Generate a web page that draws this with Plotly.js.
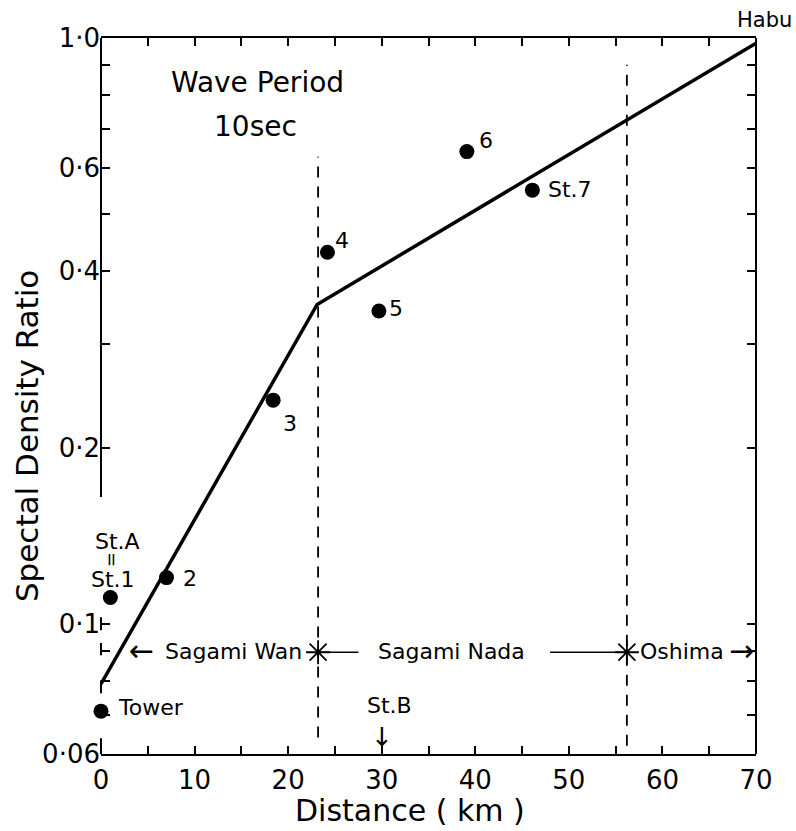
<!DOCTYPE html>
<html>
<head>
<meta charset="utf-8">
<script src="https://cdn.plot.ly/plotly-3.0.1.min.js"></script>
<style>html,body{margin:0;padding:0;background:#fff;}#chart{width:796px;height:831px;}</style>
</head>
<body>
<div id="chart"></div>
<script>
// ---- data ----
const stationNames = ['Tower', 'St.1', '2', '3', '4', '5', '6', 'St.7'];
const distanceKm   = [0, 1.0, 7.0, 18.4, 24.2, 29.7, 39.1, 46.1];
const densityRatio = [0.071, 0.111, 0.120, 0.241, 0.431, 0.342, 0.64, 0.55];

const fitDistance = [0, 23.1, 70];
const fitRatio    = [0.079, 0.351, 0.98];

const boundaryKm   = [23.2, 56.2];
const boundaryTop  = [0.627, 0.90];
const boundaryBot  = [0.064, 0.062];

const xTickVals = [0, 5, 10, 15, 20, 25, 30, 35, 40, 45, 50, 55, 60, 65, 70];
const xTickText = ['0', '', '10', '', '20', '', '30', '', '40', '', '50', '', '60', '', '70'];
const yTickVals = [0.06, 0.07, 0.08, 0.09, 0.1, 0.2, 0.3, 0.4, 0.5, 0.6, 0.7, 0.8, 0.9, 1.0];
const yTickText = ['0·06', '', '', '', '0·1', '0·2', '', '0·4', '', '0·6', '', '', '', '1·0'];

const regionRowRatio = 0.0895;
const regionNames = ['Sagami Wan', 'Sagami Nada', 'Oshima'];
const regionLabelKm = [14.2, 37.5, 62.1];

const xTitle = 'Distance ( km )';
const yTitle = 'Spectal Density Ratio';

// ---- traces ----
const L = v => Math.log10(v);
const traces = [];

// boundary dashed lines
boundaryKm.forEach((x, i) => {
  traces.push({
    x: [x, x], y: [boundaryBot[i], boundaryTop[i]], mode: 'lines',
    line: {color: '#000', width: 1.8, dash: '11px,9px'}, hoverinfo: 'skip', showlegend: false
  });
});

// region connector lines
traces.push({
  x: [boundaryKm[0], 27.5, null, 48.0, boundaryKm[1]],
  y: [regionRowRatio, regionRowRatio, null, regionRowRatio, regionRowRatio],
  mode: 'lines', line: {color: '#000', width: 1.6}, hoverinfo: 'skip', showlegend: false
});
// region boundary stars
traces.push({
  x: boundaryKm, y: [regionRowRatio, regionRowRatio], mode: 'markers',
  marker: {symbol: 'asterisk-open', size: 20, color: '#000', line: {color: '#000', width: 1.8}},
  hoverinfo: 'skip', showlegend: false
});

// fitted line
traces.push({
  x: fitDistance, y: fitRatio, mode: 'lines',
  line: {color: '#000', width: 3.5}, hoverinfo: 'skip', showlegend: false, cliponaxis: false
});

// observed points
traces.push({
  x: distanceKm, y: densityRatio, text: stationNames, mode: 'markers',
  marker: {color: '#000', size: 15}, showlegend: false, cliponaxis: false
});

// ---- annotations ----
const fnt = (s) => ({family: 'DejaVu Sans', size: s, color: '#000'});
const ann = [];
function txt(text, x, y, opts) {
  ann.push(Object.assign({text: text, x: x, y: L(y), xref: 'x', yref: 'y', showarrow: false,
    xanchor: 'center', yanchor: 'middle', font: fnt(22)}, opts || {}));
}
// point labels (anchored to their points with pixel offsets)
const labelShift = {
  '2':    {xshift: 23, yshift: -1},
  '3':    {xshift: 17, yshift: -23},
  '4':    {xshift: 15, yshift: 12},
  '5':    {xshift: 17, yshift: 3},
  '6':    {xshift: 19, yshift: 11},
  'St.7': {xshift: 14, yshift: 1, xanchor: 'left'},
  'Tower':{xshift: 15, yshift: 4, xanchor: 'left'},
  'St.1': {xshift: 3, yshift: 18}
};
stationNames.forEach((n, i) => {
  txt(n, distanceKm[i], densityRatio[i], labelShift[n]);
});
// equality mark and St.A above St.1
txt('=', distanceKm[1], densityRatio[1], {xshift: 2, yshift: 38, textangle: 90, font: fnt(18)});
txt('St.A', distanceKm[1], densityRatio[1], {xshift: 7, yshift: 56});

txt('Wave Period', 16.7, 0.84, {font: fnt(28)});
txt('10sec', 16.5, 0.705, {font: fnt(28)});

// region row
txt('←', 4.3, regionRowRatio, {yshift: 2, font: fnt(30)});
regionNames.forEach((n, i) => txt(n, regionLabelKm[i], regionRowRatio, {yshift: 1}));
txt('→', 68.4, regionRowRatio, {yshift: 2, font: fnt(30)});

txt('St.B', 30.8, 0.0719, {yshift: 2});
txt('↓', 30.0, 0.0652, {font: fnt(26), yshift: -4});

// labels outside the plotting area (paper coordinates)
const paperTxt = (text, x, y, opts) => ann.push(Object.assign({text: text, xref: 'paper', yref: 'paper', x: x, y: y,
  xanchor: 'center', yanchor: 'middle', showarrow: false, font: fnt(22)}, opts || {}));
paperTxt('Habu', 1.0137, 1.025, {font: fnt(21)});
paperTxt(xTitle, 0.4718, -0.1061, {yanchor: 'bottom', font: fnt(30)});
paperTxt(yTitle, -0.113, 0.444, {textangle: -90, font: fnt(31)});

// ---- axis frame (left axis is broken in the original) ----
const ax = {type: 'line', xref: 'paper', yref: 'paper', line: {color: '#000', width: 2}};
const shapes = [
  Object.assign({x0: 0, x1: 0, y0: 0.359, y1: 1}, ax),
  Object.assign({x0: 0, x1: 0, y0: 0.173, y1: 0.191}, ax),
  Object.assign({x0: 0, x1: 0, y0: 0.138, y1: 0.155}, ax),
  Object.assign({x0: 0, x1: 0, y0: 0.085, y1: 0.103}, ax),
  Object.assign({x0: 0, x1: 0, y0: 0, y1: 0.022}, ax),
  Object.assign({x0: 1, x1: 1, y0: 0, y1: 1}, ax)
];

const layout = {
  width: 796, height: 831,
  margin: {l: 101, r: 40, t: 38, b: 77},
  paper_bgcolor: '#fff', plot_bgcolor: '#fff',
  font: fnt(26),
  showlegend: false,
  xaxis: {
    range: [0, 70], tickvals: xTickVals, ticktext: xTickText,
    ticks: 'inside', ticklen: 8, tickwidth: 2, tickcolor: '#000',
    showline: true, linecolor: '#000', linewidth: 2, mirror: 'ticks',
    showgrid: false, zeroline: false, ticklabelstandoff: 2,
    tickfont: fnt(26)
  },
  yaxis: {
    type: 'log', range: [L(0.06), L(1.0)], tickvals: yTickVals, ticktext: yTickText,
    ticks: 'inside', ticklen: 9, tickwidth: 2, tickcolor: '#000',
    showline: false, mirror: 'ticks',
    showgrid: false, zeroline: false,
    tickfont: fnt(26)
  },
  annotations: ann,
  shapes: shapes
};

Plotly.newPlot('chart', traces, layout, {displayModeBar: false, staticPlot: true});
</script>
</body>
</html>
